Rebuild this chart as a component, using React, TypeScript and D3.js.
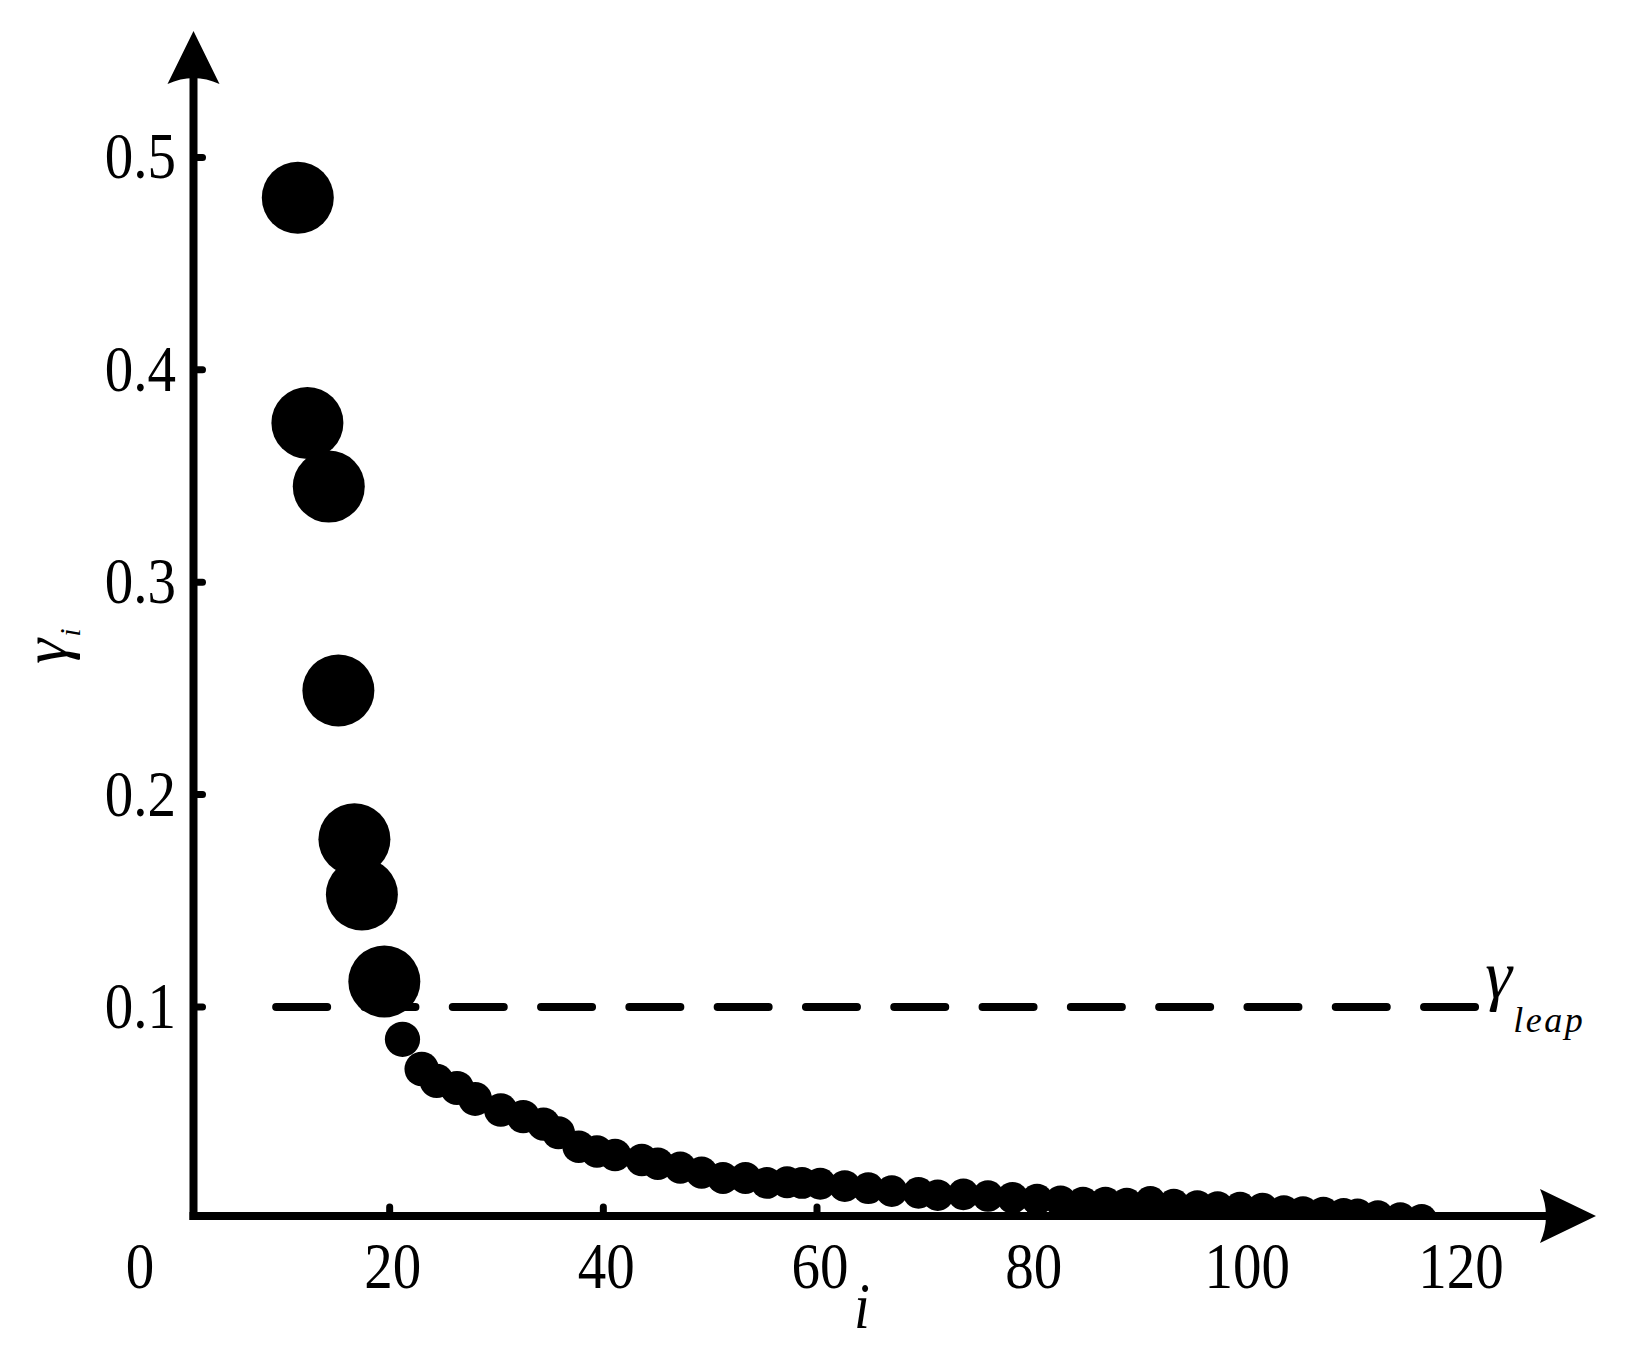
import React from "react";
import * as d3 from "d3";

// points above the leap threshold
const bigI = [11.4, 12.3, 14.3, 15.2, 16.7, 17.4, 19.5];
const bigGamma = [0.481, 0.375, 0.345, 0.249, 0.179, 0.153, 0.112];

// the long tail below it
const smallI = [
  21.2, 23.0, 24.4, 26.3, 28.0, 30.4, 32.5, 34.4, 35.8, 37.7, 39.4, 41.1,
  43.6, 45.1, 47.2, 49.2, 51.2, 53.3, 55.3, 57.2, 58.6, 60.3, 62.6, 64.8,
  67.0, 69.5, 71.3, 73.7, 76.0, 78.3, 80.6, 82.8, 84.9, 87.0, 89.0, 91.2,
  93.4, 95.6, 97.5, 99.6, 101.7, 103.7, 105.5, 107.4, 109.3, 110.6, 112.5,
  114.6, 116.6,
];
const smallGamma = [
  0.0848, 0.0708, 0.0652, 0.0619, 0.0567, 0.0515, 0.0484, 0.0449, 0.0408,
  0.0342, 0.032, 0.0303, 0.028, 0.0262, 0.0244, 0.022, 0.0195, 0.0195,
  0.0172, 0.0175, 0.0172, 0.0168, 0.0157, 0.0147, 0.0133, 0.0125, 0.0114,
  0.0118, 0.011, 0.0102, 0.0094, 0.0086, 0.008, 0.008, 0.0075, 0.0083, 0.007,
  0.0064, 0.0059, 0.0056, 0.0052, 0.004, 0.0036, 0.0033, 0.0028, 0.0025,
  0.0017, 0.0008, 0.0,
];

const xTicks = [20, 40, 60, 80, 100];
const xTickLabels = [0, 20, 40, 60, 80, 100, 120];
const yTicks = [0.1, 0.2, 0.3, 0.4, 0.5];
const gammaLeap = 0.1;
const leapRange = [9, 122];

const W = 1645;
const H = 1360;
const font = "'Liberation Serif', 'Times New Roman', serif";

export default function App() {
  const x = d3.scaleLinear().domain([0, 120]).range([176, 1458]);
  const y = d3.scaleLinear().domain([0, 0.5]).range([1219.4, 157.4]);
  const rSmall = d3
    .scaleLinear()
    .domain([0, 0.1])
    .range([15.5, 18])
    .clamp(true);

  const ax = 193.5; // y axis position
  const ay = 1216; // x axis position

  const small = smallI.map((v, k) => ({ i: v, g: smallGamma[k] }));
  const big = bigI.map((v, k) => ({ i: v, g: bigGamma[k] }));

  const fmt = d3.format(".1f");

  return (
    <svg
      width={W}
      height={H}
      style={{ position: "absolute", left: 0, top: 0, background: "#fff" }}
    >
      <defs>
        <clipPath id="plotClip">
          <rect x={0} y={0} width={W} height={ay} />
        </clipPath>
      </defs>

      {/* data */}
      <g clipPath="url(#plotClip)" fill="#000">
        {small.map((d, k) => (
          <circle key={"s" + k} cx={x(d.i)} cy={y(d.g)} r={rSmall(d.g)} />
        ))}
        {big.map((d, k) => (
          <circle key={"b" + k} cx={x(d.i)} cy={y(d.g)} r={36} />
        ))}
      </g>

      {/* threshold */}
      <line
        x1={x(leapRange[0]) + 4}
        x2={x(leapRange[1]) - 4}
        y1={y(gammaLeap)}
        y2={y(gammaLeap)}
        stroke="#000"
        strokeWidth={8}
        strokeLinecap="round"
        strokeDasharray="51 37.3"
      />
      <text
        x={x(leapRange[1]) + 6}
        y={y(gammaLeap) - 9}
        fontFamily={font}
        fontStyle="italic"
        fontSize={68}
      >
        γ
        <tspan fontSize={36} dy={34} dx={1} letterSpacing={2.5}>
          leap
        </tspan>
      </text>

      {/* axes */}
      <g stroke="#000" fill="none">
        <line x1={ax} x2={ax} y1={ay + 4} y2={70} strokeWidth={8} />
        <line x1={ax - 4} x2={1555} y1={ay} y2={ay} strokeWidth={8} />
        {yTicks.map((t) => (
          <line
            key={t}
            x1={ax + 4}
            x2={ax + 9}
            y1={y(t)}
            y2={y(t)}
            strokeWidth={7}
            strokeLinecap="round"
          />
        ))}
        {xTicks.map((t) => (
          <line
            key={t}
            x1={x(t)}
            x2={x(t)}
            y1={ay - 4}
            y2={ay - 9}
            strokeWidth={7}
            strokeLinecap="round"
          />
        ))}
      </g>
      <path
        d={`M${ax},31 L${ax + 26},84 Q${ax},72 ${ax - 26},84 Z`}
        fill="#000"
      />
      <path
        d={`M1596,${ay} L1540,${ay - 27} Q1552,${ay} 1540,${ay + 27} Z`}
        fill="#000"
      />

      {/* tick labels */}
      <g fontFamily={font} fontSize={57} fill="#000">
        {yTicks.map((t) => (
          <text
            key={t}
            transform={`translate(176,${y(t) + 21}) scale(1,1.14)`}
            textAnchor="end"
          >
            {fmt(t)}
          </text>
        ))}
        {xTickLabels.map((t) => (
          <text
            key={t}
            transform={`translate(${t === 0 ? x(t) - 36 : x(t) + 3},1288) scale(1,1.14)`}
            textAnchor="middle"
          >
            {t}
          </text>
        ))}
      </g>

      {/* axis titles */}
      <text
        transform="translate(862,1328) scale(1,1.14)"
        fontFamily={font}
        fontStyle="italic"
        fontSize={57}
        textAnchor="middle"
      >
        i
      </text>
      <text
        transform="translate(66,664) rotate(-90)"
        fontFamily={font}
        fontStyle="italic"
        fontSize={64}
      >
        γ
        <tspan fontSize={30} dy={14} dx={2}>
          i
        </tspan>
      </text>
    </svg>
  );
}
